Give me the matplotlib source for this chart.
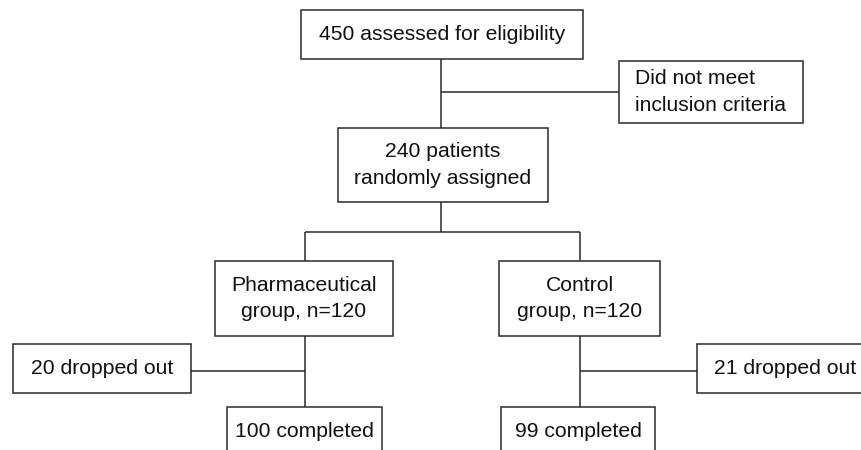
import matplotlib.pyplot as plt
from matplotlib.patches import Rectangle

# counts in the flow
assessed = 450
randomized = 240
pharm_n = 120
control_n = 120
pharm_drop = 20
control_drop = 21
pharm_done = 100
control_done = 99

labels = [
    f"{assessed} assessed for eligibility",
    "Did not meet\ninclusion criteria",
    f"{randomized} patients\nrandomly assigned",
    f"Pharmaceutical\ngroup, n={pharm_n}",
    f"Control\ngroup, n={control_n}",
    f"{pharm_drop} dropped out",
    f"{control_drop} dropped out",
    f"{pharm_done} completed",
    f"{control_done} completed",
]
aligns = ['center', 'left', 'center', 'center', 'center',
          'center', 'center', 'center', 'center']

# layout in pixels: x0, x1, y0, y1 (y grows downwards)
boxes = [
    (301, 583, 10, 59),
    (619, 803, 61, 123),
    (338, 548, 128, 202),
    (215, 393, 261, 336),
    (499, 660, 261, 336),
    (13, 191, 344, 393),
    (697, 873, 344, 393),
    (227, 382, 407, 456),
    (501, 655, 407, 456),
]

# connector segments
lines = [
    ((441, 441), (59, 128)),
    ((441, 619), (92, 92)),
    ((441, 441), (202, 232)),
    ((305, 580), (232, 232)),
    ((305, 305), (232, 261)),
    ((580, 580), (232, 261)),
    ((305, 305), (336, 407)),
    ((191, 305), (371, 371)),
    ((580, 580), (336, 407)),
    ((580, 697), (371, 371)),
]

plt.rcParams['font.family'] = ['Liberation Sans', 'DejaVu Sans']
edge = '#2a2a2a'

fig = plt.figure(figsize=(8.62, 4.5), dpi=100)
ax = fig.add_axes([0, 0, 1, 1])
ax.set_xlim(0, 862)
ax.set_ylim(450, 0)
ax.axis('off')

for xs, ys in lines:
    ax.plot(xs, ys, color=edge, lw=1.1, solid_capstyle='butt')

for (x0, x1, y0, y1), txt, al in zip(boxes, labels, aligns):
    ax.add_patch(Rectangle((x0, y0), x1 - x0, y1 - y0, facecolor='white',
                           edgecolor=edge, lw=1.1, zorder=3))
    cy = (y0 + y1) / 2
    if y1 > 450:
        cy = (y0 + 450) / 2 + 3
    ax.text((x0 + x1) / 2, cy, txt, ha='center', va='center', multialignment=al,
            fontsize=15.2, linespacing=1.5, color='#111111', zorder=4)

fig.savefig('out.png', dpi=100)
